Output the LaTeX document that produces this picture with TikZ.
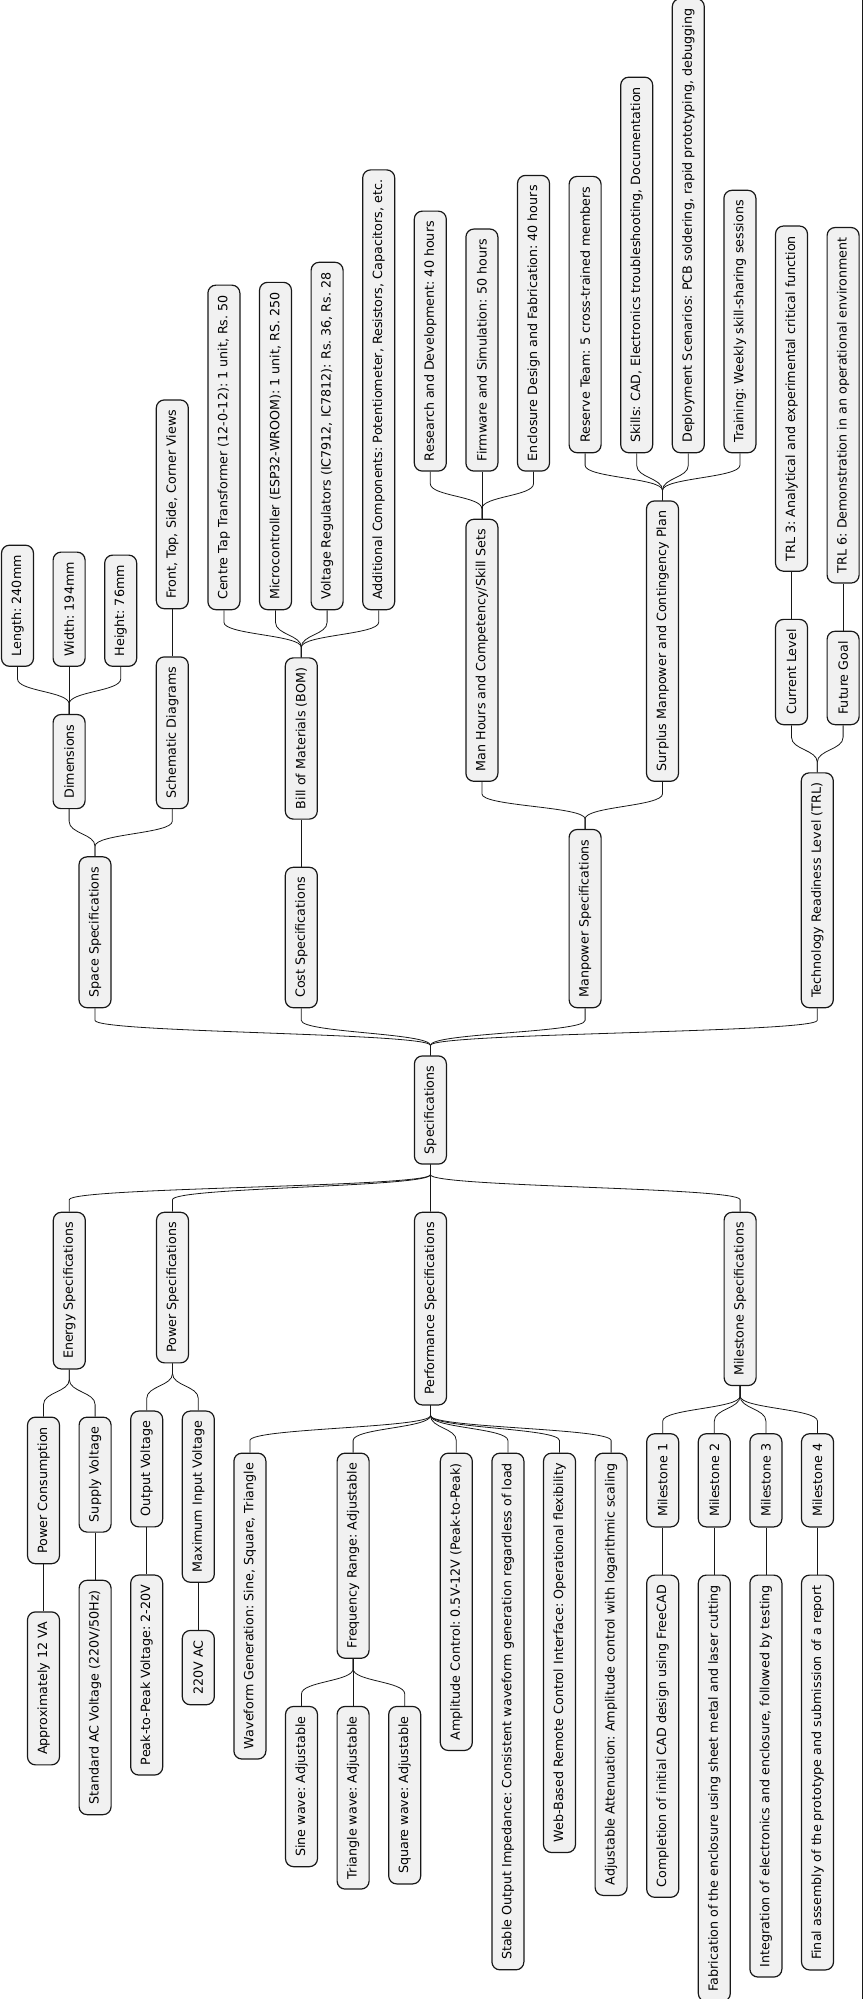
\documentclass[tikz,border=0pt]{standalone}
\usepackage{fontspec}
\newfontfamily\mapfamily{DejaVu Sans}
\usetikzlibrary{calc}
\definecolor{mapfill}{HTML}{F1F1F1}
\definecolor{mapline}{HTML}{181818}
\frenchspacing

\begin{document}
\begin{tikzpicture}[x=1pt,y=-1pt]
\tikzset{
  mapnode/.style={draw=mapline,fill=mapfill,line width=1.2pt,rounded corners=8pt,rotate=90,minimum height=32pt,inner xsep=10pt,inner ysep=0pt,font=\mapfamily\fontsize{12.7}{15}\selectfont},
  upbranch/.style={draw=mapline,line width=0.8pt,to path={-- ++(0,-10) .. controls +(0,-12.5) and +(0,12.5) .. ($(\tikztotarget)+(0,12)$) -- (\tikztotarget)}},
  downbranch/.style={draw=mapline,line width=0.8pt,to path={-- ++(0,10) .. controls +(0,12.5) and +(0,-12.5) .. ($(\tikztotarget)+(0,-12)$) -- (\tikztotarget)}}
}
\useasboundingbox (0,0) rectangle (863,1999);
\node[mapnode] (spec) at (430.4,1110) {Specifications};
% upper half
\node[mapnode,anchor=west] (space) at ($(95,0 |- spec.east)+(0,-47)$) {Space Specifications};
\node[mapnode,anchor=west] (cost) at ($(301.3,0 |- spec.east)+(0,-47)$) {Cost Specifications};
\node[mapnode,anchor=west] (manpower) at ($(585.1,0 |- spec.east)+(0,-47)$) {Manpower Specifications};
\node[mapnode,anchor=west] (trl) at ($(817.3,0 |- spec.east)+(0,-47)$) {Technology Readiness Level (TRL)};
\node[mapnode,anchor=west] (dims) at ($(69.1,0 |- space.east)+(0,-47)$) {Dimensions};
\node[mapnode,anchor=west] (schem) at ($(172.3,0 |- space.east)+(0,-47)$) {Schematic Diagrams};
\node[mapnode,anchor=west] (length) at ($(17.5,0 |- dims.east)+(0,-47)$) {Length: 240mm};
\node[mapnode,anchor=west] (width) at ($(69.1,0 |- dims.east)+(0,-47)$) {Width: 194mm};
\node[mapnode,anchor=west] (height) at ($(120.7,0 |- dims.east)+(0,-47)$) {Height: 76mm};
\node[mapnode,anchor=west] (views) at ($(172.3,0 |- schem.east)+(0,-47)$) {Front, Top, Side, Corner Views};
\node[mapnode,anchor=west] (bom) at ($(301.3,0 |- cost.east)+(0,-47)$) {Bill of Materials (BOM)};
\node[mapnode,anchor=west] (trafo) at ($(223.9,0 |- bom.east)+(0,-47)$) {Centre Tap Transformer (12-0-12): 1 unit, Rs. 50};
\node[mapnode,anchor=west] (mcu) at ($(275.5,0 |- bom.east)+(0,-47)$) {Microcontroller (ESP32-WROOM): 1 unit, RS. 250};
\node[mapnode,anchor=west] (regs) at ($(327.1,0 |- bom.east)+(0,-47)$) {Voltage Regulators (IC7912, IC7812): Rs. 36, Rs. 28};
\node[mapnode,anchor=west] (parts) at ($(378.7,0 |- bom.east)+(0,-47)$) {Additional Components: Potentiometer, Resistors, Capacitors, etc.};
\node[mapnode,anchor=west] (hours) at ($(481.9,0 |- manpower.east)+(0,-47)$) {Man Hours and Competency/Skill Sets};
\node[mapnode,anchor=west] (surplus) at ($(662.5,0 |- manpower.east)+(0,-47)$) {Surplus Manpower and Contingency Plan};
\node[mapnode,anchor=west] (rnd) at ($(430.3,0 |- hours.east)+(0,-47)$) {Research and Development: 40 hours};
\node[mapnode,anchor=west] (firmware) at ($(481.9,0 |- hours.east)+(0,-47)$) {Firmware and Simulation: 50 hours};
\node[mapnode,anchor=west] (enclosure) at ($(533.5,0 |- hours.east)+(0,-47)$) {Enclosure Design and Fabrication: 40 hours};
\node[mapnode,anchor=west] (reserve) at ($(585.1,0 |- surplus.east)+(0,-47)$) {Reserve Team: 5 cross-trained members};
\node[mapnode,anchor=west] (skills) at ($(636.7,0 |- surplus.east)+(0,-47)$) {Skills: CAD, Electronics troubleshooting, Documentation};
\node[mapnode,anchor=west] (deploy) at ($(688.3,0 |- surplus.east)+(0,-47)$) {Deployment Scenarios: PCB soldering, rapid prototyping, debugging};
\node[mapnode,anchor=west] (training) at ($(739.9,0 |- surplus.east)+(0,-47)$) {Training: Weekly skill-sharing sessions};
\node[mapnode,anchor=west] (current) at ($(791.5,0 |- trl.east)+(0,-47)$) {Current Level};
\node[mapnode,anchor=west] (future) at ($(843.1,0 |- trl.east)+(0,-47)$) {Future Goal};
\node[mapnode,anchor=west] (trl3) at ($(791.5,0 |- current.east)+(0,-47)$) {TRL 3: Analytical and experimental critical function};
\node[mapnode,anchor=west] (trl6) at ($(843.1,0 |- future.east)+(0,-47)$) {TRL 6: Demonstration in an operational environment};
% lower half
\node[mapnode,anchor=east] (energy) at ($(69.3,0 |- spec.west)+(0,47)$) {Energy Specifications};
\node[mapnode,anchor=east] (power) at ($(172.5,0 |- spec.west)+(0,47)$) {Power Specifications};
\node[mapnode,anchor=east] (perf) at ($(430.5,0 |- spec.west)+(0,47)$) {Performance Specifications};
\node[mapnode,anchor=east] (milestones) at ($(740.1,0 |- spec.west)+(0,47)$) {Milestone Specifications};
\node[mapnode,anchor=east] (consumption) at ($(43.5,0 |- energy.west)+(0,47)$) {Power Consumption};
\node[mapnode,anchor=east] (supply) at ($(95.1,0 |- energy.west)+(0,47)$) {Supply Voltage};
\node[mapnode,anchor=east] (approx) at ($(43.5,0 |- consumption.west)+(0,47)$) {Approximately 12 VA};
\node[mapnode,anchor=east] (mains) at ($(95.1,0 |- supply.west)+(0,47)$) {Standard AC Voltage (220V/50Hz)};
\node[mapnode,anchor=east] (outvolt) at ($(146.7,0 |- power.west)+(0,47)$) {Output Voltage};
\node[mapnode,anchor=east] (maxin) at ($(198.3,0 |- power.west)+(0,47)$) {Maximum Input Voltage};
\node[mapnode,anchor=east] (ptp) at ($(146.7,0 |- outvolt.west)+(0,47)$) {Peak-to-Peak Voltage: 2-20V};
\node[mapnode,anchor=east] (ac) at ($(198.3,0 |- maxin.west)+(0,47)$) {220V AC};
\node[mapnode,anchor=east] (waveform) at ($(249.9,0 |- perf.west)+(0,47)$) {Waveform Generation: Sine, Square, Triangle};
\node[mapnode,anchor=east] (freq) at ($(353.1,0 |- perf.west)+(0,47)$) {Frequency Range: Adjustable};
\node[mapnode,anchor=east] (amplitude) at ($(456.3,0 |- perf.west)+(0,47)$) {Amplitude Control: 0.5V-12V (Peak-to-Peak)};
\node[mapnode,anchor=east] (impedance) at ($(507.9,0 |- perf.west)+(0,47)$) {Stable Output Impedance: Consistent waveform generation regardless of load};
\node[mapnode,anchor=east] (webui) at ($(559.5,0 |- perf.west)+(0,47)$) {Web-Based Remote Control Interface: Operational flexibility};
\node[mapnode,anchor=east] (attenuation) at ($(611.1,0 |- perf.west)+(0,47)$) {Adjustable Attenuation: Amplitude control with logarithmic scaling};
\node[mapnode,anchor=east] (sine) at ($(301.5,0 |- freq.west)+(0,47)$) {Sine wave: Adjustable};
\node[mapnode,anchor=east] (triangle) at ($(353.1,0 |- freq.west)+(0,47)$) {Triangle wave: Adjustable};
\node[mapnode,anchor=east] (square) at ($(404.7,0 |- freq.west)+(0,47)$) {Square wave: Adjustable};
\node[mapnode,anchor=east] (ms1) at ($(662.7,0 |- milestones.west)+(0,47)$) {Milestone 1};
\node[mapnode,anchor=east] (ms2) at ($(714.3,0 |- milestones.west)+(0,47)$) {Milestone 2};
\node[mapnode,anchor=east] (ms3) at ($(765.9,0 |- milestones.west)+(0,47)$) {Milestone 3};
\node[mapnode,anchor=east] (ms4) at ($(817.5,0 |- milestones.west)+(0,47)$) {Milestone 4};
\node[mapnode,anchor=east] (cad) at ($(662.7,0 |- ms1.west)+(0,47)$) {Completion of initial CAD design using FreeCAD};
\node[mapnode,anchor=east] (fabrication) at ($(714.3,0 |- ms2.west)+(0,47)$) {Fabrication of the enclosure using sheet metal and laser cutting};
\node[mapnode,anchor=east] (integration) at ($(765.9,0 |- ms3.west)+(0,47)$) {Integration of electronics and enclosure, followed by testing};
\node[mapnode,anchor=east] (assembly) at ($(817.5,0 |- ms4.west)+(0,47)$) {Final assembly of the prototype and submission of a report};
% connectors, upper half
\draw[upbranch] (spec.east) to (space.west);
\draw[upbranch] (spec.east) to (cost.west);
\draw[upbranch] (spec.east) to (manpower.west);
\draw[upbranch] (spec.east) to (trl.west);
\draw[upbranch] (space.east) to (dims.west);
\draw[upbranch] (space.east) to (schem.west);
\draw[upbranch] (dims.east) to (length.west);
\draw[upbranch] (dims.east) to (width.west);
\draw[upbranch] (dims.east) to (height.west);
\draw[upbranch] (schem.east) to (views.west);
\draw[upbranch] (cost.east) to (bom.west);
\draw[upbranch] (bom.east) to (trafo.west);
\draw[upbranch] (bom.east) to (mcu.west);
\draw[upbranch] (bom.east) to (regs.west);
\draw[upbranch] (bom.east) to (parts.west);
\draw[upbranch] (manpower.east) to (hours.west);
\draw[upbranch] (manpower.east) to (surplus.west);
\draw[upbranch] (hours.east) to (rnd.west);
\draw[upbranch] (hours.east) to (firmware.west);
\draw[upbranch] (hours.east) to (enclosure.west);
\draw[upbranch] (surplus.east) to (reserve.west);
\draw[upbranch] (surplus.east) to (skills.west);
\draw[upbranch] (surplus.east) to (deploy.west);
\draw[upbranch] (surplus.east) to (training.west);
\draw[upbranch] (trl.east) to (current.west);
\draw[upbranch] (trl.east) to (future.west);
\draw[upbranch] (current.east) to (trl3.west);
\draw[upbranch] (future.east) to (trl6.west);
% connectors, lower half
\draw[downbranch] (spec.west) to (energy.east);
\draw[downbranch] (spec.west) to (power.east);
\draw[downbranch] (spec.west) to (perf.east);
\draw[downbranch] (spec.west) to (milestones.east);
\draw[downbranch] (energy.west) to (consumption.east);
\draw[downbranch] (energy.west) to (supply.east);
\draw[downbranch] (consumption.west) to (approx.east);
\draw[downbranch] (supply.west) to (mains.east);
\draw[downbranch] (power.west) to (outvolt.east);
\draw[downbranch] (power.west) to (maxin.east);
\draw[downbranch] (outvolt.west) to (ptp.east);
\draw[downbranch] (maxin.west) to (ac.east);
\draw[downbranch] (perf.west) to (waveform.east);
\draw[downbranch] (perf.west) to (freq.east);
\draw[downbranch] (perf.west) to (amplitude.east);
\draw[downbranch] (perf.west) to (impedance.east);
\draw[downbranch] (perf.west) to (webui.east);
\draw[downbranch] (perf.west) to (attenuation.east);
\draw[downbranch] (freq.west) to (sine.east);
\draw[downbranch] (freq.west) to (triangle.east);
\draw[downbranch] (freq.west) to (square.east);
\draw[downbranch] (milestones.west) to (ms1.east);
\draw[downbranch] (milestones.west) to (ms2.east);
\draw[downbranch] (milestones.west) to (ms3.east);
\draw[downbranch] (milestones.west) to (ms4.east);
\draw[downbranch] (ms1.west) to (cad.east);
\draw[downbranch] (ms2.west) to (fabrication.east);
\draw[downbranch] (ms3.west) to (integration.east);
\draw[downbranch] (ms4.west) to (assembly.east);
% right edge
\draw[mapline,line width=0.8pt] (862.5,0) -- (862.5,1999);
\end{tikzpicture}
\end{document}
